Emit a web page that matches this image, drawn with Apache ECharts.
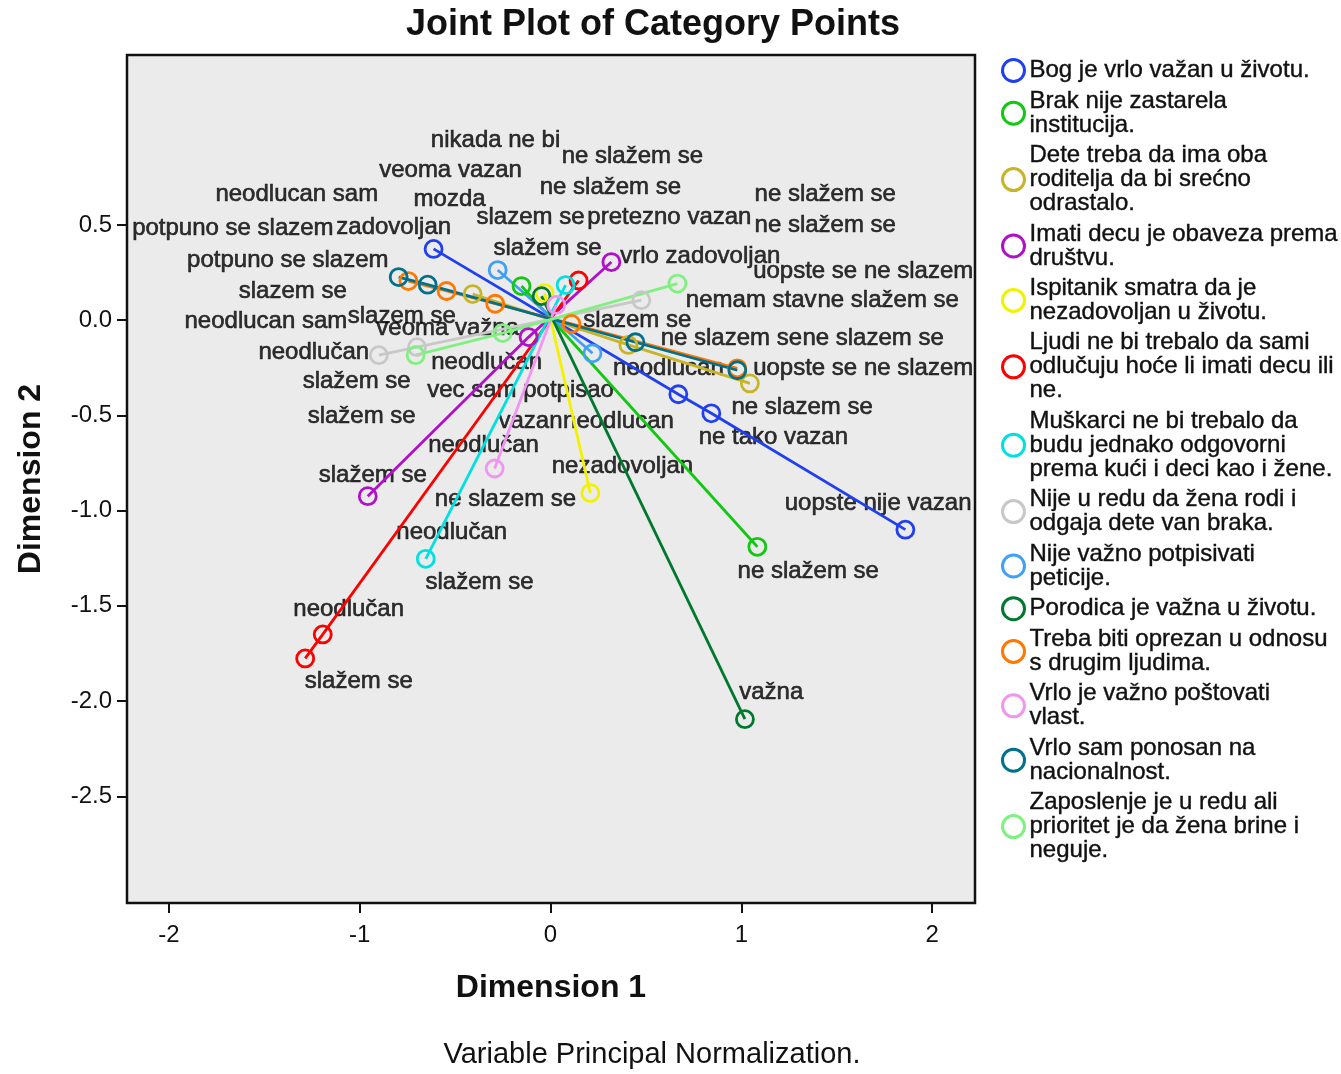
<!DOCTYPE html>
<html>
<head>
<meta charset="utf-8">
<script src="https://cdn.jsdelivr.net/npm/echarts@6/dist/echarts.min.js"></script>
<style>
html,body{margin:0;padding:0;background:#fff;}
#chart{width:1341px;height:1074px;}
</style>
</head>
<body>
<div id="chart"></div>
<script>
// ---- data ----
const variables = [
  "Bog je vrlo važan u životu.",
  "Brak nije zastarela institucija.",
  "Dete treba da ima oba roditelja da bi srećno odrastalo.",
  "Imati decu je obaveza prema društvu.",
  "Ispitanik smatra da je nezadovoljan u životu.",
  "Ljudi ne bi trebalo da sami odlučuju hoće li imati decu ili ne.",
  "Muškarci ne bi trebalo da budu jednako odgovorni prema kući i deci kao i žene.",
  "Nije u redu da žena rodi i odgaja dete van braka.",
  "Nije važno potpisivati peticije.",
  "Porodica je važna u životu.",
  "Treba biti oprezan u odnosu s drugim ljudima.",
  "Vrlo je važno poštovati vlast.",
  "Vrlo sam ponosan na nacionalnost.",
  "Zaposlenje je u redu ali prioritet je da žena brine i neguje."
];
const legendLines = [
  "Bog je vrlo važan u životu.",
  "Brak nije zastarela\ninstitucija.",
  "Dete treba da ima oba\nroditelja da bi srećno\nodrastalo.",
  "Imati decu je obaveza prema\ndruštvu.",
  "Ispitanik smatra da je\nnezadovoljan u životu.",
  "Ljudi ne bi trebalo da sami\nodlučuju hoće li imati decu ili\nne.",
  "Muškarci ne bi trebalo da\nbudu jednako odgovorni\nprema kući i deci kao i žene.",
  "Nije u redu da žena rodi i\nodgaja dete van braka.",
  "Nije važno potpisivati\npeticije.",
  "Porodica je važna u životu.",
  "Treba biti oprezan u odnosu\ns drugim ljudima.",
  "Vrlo je važno poštovati\nvlast.",
  "Vrlo sam ponosan na\nnacionalnost.",
  "Zaposlenje je u redu ali\nprioritet je da žena brine i\nneguje."
];
const colors = ["#2040F0","#12C812","#C8B428","#B010C8","#F2F200","#FF0000","#00E0E0",
                "#C8C8C8","#40A0F5","#00782D","#FF7800","#F096F0","#00708C","#80F080"];
// category points [dimension 1, dimension 2] per variable
const seriesPoints = [
  [[-0.613,0.374],[0.670,-0.389],[0.843,-0.489],[1.860,-1.100]],
  [[-0.152,0.179],[1.084,-1.190]],
  [[-0.408,0.137],[0.408,-0.130],[1.045,-0.332]],
  [[0.319,0.305],[-0.115,-0.089],[-0.958,-0.924]],
  [[-0.031,0.142],[0.209,-0.908]],
  [[0.147,0.208],[-1.194,-1.650],[-1.286,-1.776]],
  [[0.079,0.184],[-0.654,-1.253]],
  [[-0.900,-0.184],[-0.700,-0.142],[0.476,0.105]],
  [[-0.277,0.263],[0.220,-0.174]],
  [[-0.047,0.126],[1.019,-2.095]],
  [[-0.745,0.205],[-0.545,0.153],[-0.290,0.086],[0.110,-0.020],[0.979,-0.253]],
  [[0.030,0.080],[-0.293,-0.779]],
  [[-0.796,0.226],[-0.644,0.186],[0.445,-0.116],[0.979,-0.263]],
  [[-0.707,-0.184],[-0.251,-0.068],[0.665,0.192]]
];
// category labels
const labelText = ["nikada ne bi","ne slažem se","veoma vazan","ne slažem se","neodlucan sam","mozda","ne slažem se",
  "potpuno se slazem","zadovoljan","slazem se","pretezno vazan","ne slažem se","slažem se","vrlo zadovoljan",
  "potpuno se slazem","uopste se ne slazem","slazem se","nemam stav","ne slažem se","neodlucan sam","slazem se",
  "veoma važna","slazem se","ne slazem se","ne slazem se","neodlučan","neodlučan","neodlucan","uopste se ne slazem",
  "slažem se","vec sam potpisao","slažem se","ne slazem se","vazan","neodlucan","ne tako vazan","neodlučan",
  "nezadovoljan","slažem se","ne slazem se","uopste nije vazan","neodlučan","ne slažem se","slažem se",
  "neodlučan","slažem se","važna"];
const labelDim1 = [-0.288,0.429,-0.524,0.314,-1.330,-0.529,1.440,
  -1.665,-0.822,-0.105,0.623,1.440,-0.016,0.785,
  -1.377,1.639,-1.351,1.052,1.770,-1.492,-0.780,
  -0.539,0.455,0.948,1.691,-1.241,-0.335,0.618,1.639,
  -1.016,-0.157,-0.990,1.319,-0.105,0.356,1.168,-0.351,
  0.377,-0.932,-0.236,1.717,-0.518,1.351,-0.372,
  -1.058,-1.005,1.157];
const labelDim2 = [0.942,0.858,0.784,0.695,0.658,0.632,0.658,
  0.484,0.489,0.537,0.537,0.495,0.379,0.337,
  0.316,0.258,0.153,0.105,0.105,-0.005,0.021,
  -0.042,0.000,-0.095,-0.095,-0.168,-0.221,-0.253,-0.253,
  -0.321,-0.368,-0.505,-0.458,-0.532,-0.532,-0.616,-0.658,
  -0.768,-0.816,-0.942,-0.963,-1.116,-1.321,-1.379,
  -1.516,-1.895,-1.953];
const xTicks = [-2,-1,0,1,2];
const yTicks = [0.5,0,-0.5,-1,-1.5,-2,-2.5];

// ---- chart ----
const FONT = "'Liberation Sans', Arial, sans-serif";
const chart = echarts.init(document.getElementById('chart'), null, {renderer:'canvas'});
const series = variables.map((name,i)=>({
  name: name,
  type: 'line',
  z: 3,
  data: seriesPoints[i],
  symbol: 'circle',
  symbolSize: 17,
  showAllSymbol: true,
  itemStyle: {color: 'rgba(0,0,0,0)', borderColor: colors[i], borderWidth: 2.8},
  lineStyle: {color: colors[i], width: 2.8},
  emphasis: {disabled: true},
  silent: true
}));
series.unshift({
  name: 'labels',
  type: 'scatter',
  z: 1,
  symbol: 'circle',
  symbolSize: 1,
  itemStyle: {color: 'rgba(0,0,0,0)'},
  silent: true,
  data: labelText.map((t,i)=>[labelDim1[i], labelDim2[i], t]),
  label: {
    show: true, position: 'inside',
    formatter: p => p.value[2],
    fontFamily: FONT, fontSize: 24, color: '#000',
    textBorderColor: '#000', textBorderWidth: 0.6
  },
  labelLayout: {hideOverlap: false}
});

chart.setOption({
  animation: false,
  backgroundColor: '#ffffff',
  grid: {left:127, top:55, width:848, height:848, show:true,
         backgroundColor:'#EBEBEB', borderColor:'#111', borderWidth:2.5},
  xAxis: {
    type:'value', min:-2.22, max:2.225,
    splitLine:{show:false}, axisLine:{show:false, onZero:false},
    axisTick:{show:true, length:10, lineStyle:{color:'#111', width:2}, customValues: xTicks},
    axisLabel:{customValues: xTicks, fontFamily:FONT, fontSize:24, color:'#111', margin:20,
               formatter: v => String(Math.round(v))}
  },
  yAxis: {
    type:'value', min:-3.06, max:1.392,
    splitLine:{show:false}, axisLine:{show:false, onZero:false},
    axisTick:{show:true, length:10, lineStyle:{color:'#111', width:2}, customValues: yTicks},
    axisLabel:{customValues: yTicks, fontFamily:FONT, fontSize:24, color:'#111', margin:15,
               formatter: v => Number(v).toFixed(1)}
  },
  legend: {
    orient:'vertical', left:996, top:53,
    itemWidth:22, itemHeight:22, itemGap:6,
    icon:'circle',
    selectedMode:false,
    data: variables.map((n,i)=>({name:n, icon:'circle',
      itemStyle:{color:'#ffffff', borderColor:colors[i], borderWidth:3}})),
    formatter: n => legendLines[variables.indexOf(n)],
    textStyle:{fontFamily:FONT, fontSize:24, lineHeight:24, color:'#111',
      textBorderColor:'#111', textBorderWidth:0.4, padding:[0,0,0,0]}
  },
  graphic: [
    {type:'text', x:653, y:25, style:{text:'Joint Plot of Category Points',
      align:'center', verticalAlign:'middle', font:"bold 36px "+FONT, fill:'#111'}},
    {type:'text', x:551, y:988, style:{text:'Dimension 1', align:'center', verticalAlign:'middle',
      font:"bold 32px "+FONT, fill:'#111'}},
    {type:'text', x:31, y:479, rotation:Math.PI/2, style:{text:'Dimension 2', align:'center', verticalAlign:'middle',
      font:"bold 32px "+FONT, fill:'#111'}},
    {type:'text', x:652, y:1055, style:{text:'Variable Principal Normalization.', align:'center', verticalAlign:'middle',
      font:"29px "+FONT, fill:'#111'}}
  ],
  series: series
});
</script>
</body>
</html>
